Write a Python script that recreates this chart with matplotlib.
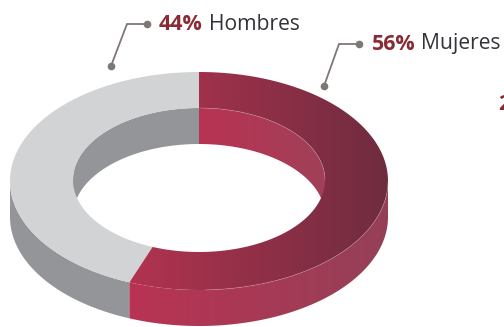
import matplotlib as mpl
mpl.use('agg')
import matplotlib.pyplot as plt
from matplotlib.colors import LinearSegmentedColormap
from matplotlib.patches import Polygon
import numpy as np

labels = ['Mujeres', 'Hombres']
shares = [56, 44]
share_txt = ['56%', '44%']

plt.rcParams['font.family'] = ['Open Sans', 'DejaVu Sans']

# ring geometry in pixels
cx, cy = 199, 181
rx_out, ry_out = 189, 109
rx_in, ry_in = 126, 72
in_dy = -1   # inner ellipse sits a pixel higher
depth = 36

GREY_TOP = '#d1d3d4'
GREY_SIDE = '#939598'
EDGE = '#d9a9b5'
LEADER = '#7f7774'


def arc(rx, ry, t0, t1, dy=0, n=200):
    # angle t is clockwise from the top of the ring, in degrees
    t = np.radians(np.linspace(t0, t1, n))
    return np.column_stack([cx + rx*np.sin(t), cy + dy - ry*np.cos(t)])


def fillGradient(ax, pts, x0, x1, c0, c1):
    patch = Polygon(pts, closed=True, fc='none', ec='none')
    ax.add_patch(patch)
    cmap = LinearSegmentedColormap.from_list('g', [c0, c1])
    im = ax.imshow(np.linspace(0, 1, 256).reshape(1, -1), cmap=cmap, aspect='auto',
                   extent=(x0, x1, 327, 0), zorder=patch.get_zorder())
    im.set_clip_path(patch)


fig = plt.figure(figsize=(5.04, 3.27), dpi=100)
ax = fig.add_axes([0, 0, 1, 1])

split = 360*shares[0]/sum(shares)

# inner wall, seen only at the back of the hole
men_wall = np.vstack([arc(rx_in, ry_in, 270, 360, in_dy), arc(rx_in, ry_in, 360, 270, in_dy+depth)])
ax.add_patch(Polygon(men_wall, closed=True, fc=GREY_SIDE, ec='none'))
women_wall = np.vstack([arc(rx_in, ry_in, 0, 90, in_dy), arc(rx_in, ry_in, 90, 0, in_dy+depth)])
fillGradient(ax, women_wall, cx, cx+rx_in, '#b93353', '#a04058')

# outer wall, front half of the ring
men_side = np.vstack([arc(rx_out, ry_out, split, 270), arc(rx_out, ry_out, 270, split, depth)])
ax.add_patch(Polygon(men_side, closed=True, fc=GREY_SIDE, ec='none'))
women_side = np.vstack([arc(rx_out, ry_out, 90, split), arc(rx_out, ry_out, split, 90, depth)])
fillGradient(ax, women_side, 129, cx+rx_out, '#b93353', '#954058')

# top face
men_top = np.vstack([arc(rx_out, ry_out, split, 360), arc(rx_in, ry_in, 360, split, in_dy)])
ax.add_patch(Polygon(men_top, closed=True, fc=GREY_TOP, ec='none'))
women_top = np.vstack([arc(rx_out, ry_out, 0, split), arc(rx_in, ry_in, split, 0, in_dy)])
fillGradient(ax, women_top, 129, cx+rx_out, '#b23350', '#6f2c3f')

# pale hairlines on the red edges
for pts in [arc(rx_out, ry_out, 90, 178), arc(rx_in, ry_in, 0, 90, in_dy)]:
    ax.plot(pts[:, 0], pts[:, 1], color=EDGE, lw=0.4, alpha=0.6)

# leader lines
for xs, ys in [((111, 127, 147), (66, 24, 24)), ((324, 339, 359), (86, 44, 44))]:
    ax.plot(xs, ys, color=LEADER, lw=1.3, solid_joinstyle='miter')
    ax.plot([xs[0], xs[2]], [ys[0], ys[2]], 'o', color=LEADER, ms=5.5, mec='none')

# labels
for lab, sh, xs, xl, y in zip(labels, share_txt, (372, 159), (421, 209), (44, 24)):
    ax.text(xs, y, sh, color='#8a2a35', fontsize=15.4, fontweight='bold', ha='left', va='center')
    ax.text(xl, y, lab, color='#333338', fontsize=15.2, ha='left', va='center')
ax.text(498, 105, '2', color='#8a2a35', fontsize=15.4, fontweight='bold', ha='left', va='center')

ax.set_xlim(0, 504)
ax.set_ylim(327, 0)
ax.axis('off')

plt.savefig('out.png', dpi=100)
plt.close(fig)
